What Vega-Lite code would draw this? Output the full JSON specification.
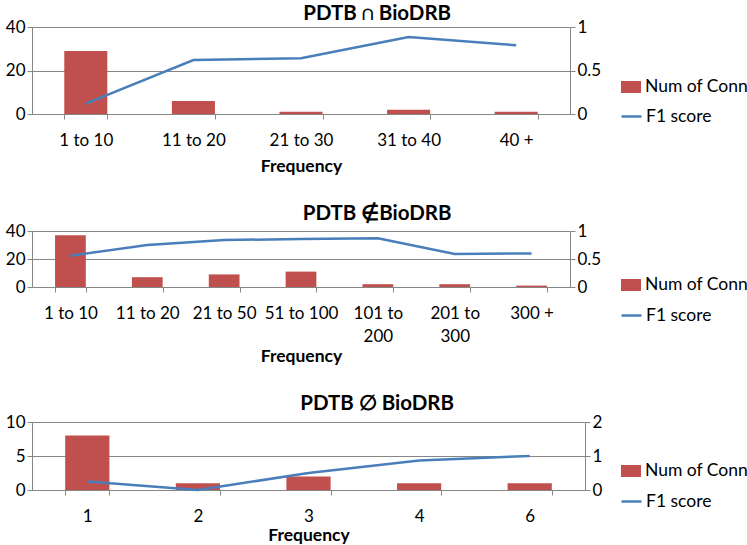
{
  "$schema": "https://vega.github.io/schema/vega-lite/v6.json",
  "padding": {"left": 5, "top": 3, "right": 0, "bottom": 0},
  "background": "white",
  "config": {
    "font": "Lato",
    "view": {"stroke": null},
    "axis": {"labelFont": "Lato", "labelFontSize": 17, "labelColor": "#000000", "domainColor": "#868686", "tickColor": "#868686", "gridColor": "#868686", "titleFont": "Lato", "titleFontSize": 17.5, "titleFontWeight": "bold", "titleColor": "#000000", "tickSize": 5},
    "title": {"font": "Lato", "fontSize": 20.5, "fontWeight": "bold", "color": "#000000", "anchor": "middle", "frame": "bounds"},
    "legend": {"labelFont": "Lato", "labelFontSize": 17.5, "labelColor": "#000000", "orient": "none", "labelOffset": 3},
    "concat": {"spacing": 28}
  },
  "resolve": {"scale": {"fill": "independent", "stroke": "independent"}},
  "vconcat": [
    {
      "title": {"text": "PDTB ∩ BioDRB", "offset": -6},
      "width": 538,
      "height": 87,
      "data": {"values": [
        {"freq": "1 to 10", "conn": 29, "f1": 0.12},
        {"freq": "11 to 20", "conn": 6, "f1": 0.62},
        {"freq": "21 to 30", "conn": 1, "f1": 0.64},
        {"freq": "31 to 40", "conn": 2, "f1": 0.885},
        {"freq": "40 +", "conn": 1, "f1": 0.79}
      ]},
      "encoding": {
        "x": {"field": "freq", "type": "nominal", "sort": null, "scale": {"paddingInner": 0.6, "paddingOuter": 0.3},
          "axis": {"title": "Frequency", "labelAngle": 0, "tickBand": "extent", "grid": false, "labelPadding": 13, "titlePadding": 9}}
      },
      "layer": [
        {"mark": {"type": "bar"},
          "encoding": {
            "y": {"field": "conn", "type": "quantitative", "scale": {"domain": [0, 40]}, "axis": {"orient": "left", "values": [0, 20, 40], "title": null, "grid": true}},
            "fill": {"datum": "Num of Conn", "type": "nominal", "scale": {"range": ["#C0504D"]}, "legend": {"title": null, "symbolType": "M-1,-0.6H1V0.6H-1Z", "symbolSize": 400, "orient": "none", "legendX": 588, "legendY": 49}}
          }},
        {"mark": {"type": "line", "strokeWidth": 2.5},
          "encoding": {
            "y": {"field": "f1", "type": "quantitative", "scale": {"domain": [0, 1]}, "axis": {"orient": "right", "values": [0, 0.5, 1], "format": "~g", "title": null, "grid": false}},
            "stroke": {"datum": "F1 score", "type": "nominal", "scale": {"range": ["#4A7EBB"]}, "legend": {"title": null, "symbolType": "stroke", "symbolStrokeWidth": 2.5, "symbolSize": 400, "orient": "none", "legendX": 588, "legendY": 78}}
          }}
      ],
      "resolve": {"scale": {"y": "independent"}}
    },
    {
      "title": {"text": "PDTB ∉BioDRB", "offset": -2},
      "width": 538,
      "height": 56,
      "data": {"values": [
        {"freq": "1 to 10", "conn": 37, "f1": 0.56},
        {"freq": "11 to 20", "conn": 7, "f1": 0.75},
        {"freq": "21 to 50", "conn": 9, "f1": 0.84},
        {"freq": "51 to 100", "conn": 11, "f1": 0.855},
        {"freq": "101 to 200", "conn": 2, "f1": 0.87},
        {"freq": "201 to 300", "conn": 2, "f1": 0.59},
        {"freq": "300 +", "conn": 1, "f1": 0.6}
      ]},
      "encoding": {
        "x": {"field": "freq", "type": "nominal", "sort": null, "scale": {"paddingInner": 0.6, "paddingOuter": 0.3},
          "axis": {"title": "Frequency", "labelAngle": 0, "tickBand": "extent", "grid": false, "labelPadding": 13, "titlePadding": 3, "labelLineHeight": 23,
            "labelExpr": "datum.label == '101 to 200' ? ['101 to', '200'] : datum.label == '201 to 300' ? ['201 to', '300'] : datum.label"}}
      },
      "layer": [
        {"mark": {"type": "bar"},
          "encoding": {
            "y": {"field": "conn", "type": "quantitative", "scale": {"domain": [0, 40]}, "axis": {"orient": "left", "values": [0, 20, 40], "title": null, "grid": true}},
            "fill": {"datum": "Num of Conn", "type": "nominal", "scale": {"range": ["#C0504D"]}, "legend": {"title": null, "symbolType": "M-1,-0.6H1V0.6H-1Z", "symbolSize": 400, "orient": "none", "legendX": 588, "legendY": 43}}
          }},
        {"mark": {"type": "line", "strokeWidth": 2.5},
          "encoding": {
            "y": {"field": "f1", "type": "quantitative", "scale": {"domain": [0, 1]}, "axis": {"orient": "right", "values": [0, 0.5, 1], "format": "~g", "title": null, "grid": false}},
            "stroke": {"datum": "F1 score", "type": "nominal", "scale": {"range": ["#4A7EBB"]}, "legend": {"title": null, "symbolType": "stroke", "symbolStrokeWidth": 2.5, "symbolSize": 400, "orient": "none", "legendX": 588, "legendY": 73}}
          }}
      ],
      "resolve": {"scale": {"y": "independent"}}
    },
    {
      "title": {"text": "PDTB ∅ BioDRB", "offset": -1},
      "width": 553,
      "height": 68,
      "data": {"values": [
        {"freq": "1", "conn": 8, "f1": 0.25},
        {"freq": "2", "conn": 1, "f1": 0},
        {"freq": "3", "conn": 2, "f1": 0.5},
        {"freq": "4", "conn": 1, "f1": 0.87},
        {"freq": "6", "conn": 1, "f1": 1.0}
      ]},
      "encoding": {
        "x": {"field": "freq", "type": "nominal", "sort": null, "scale": {"paddingInner": 0.6, "paddingOuter": 0.3},
          "axis": {"title": "Frequency", "labelAngle": 0, "tickBand": "extent", "grid": false, "labelPadding": 13, "titlePadding": 2}}
      },
      "layer": [
        {"mark": {"type": "bar"},
          "encoding": {
            "y": {"field": "conn", "type": "quantitative", "scale": {"domain": [0, 10]}, "axis": {"orient": "left", "values": [0, 5, 10], "title": null, "grid": true}},
            "fill": {"datum": "Num of Conn", "type": "nominal", "scale": {"range": ["#C0504D"]}, "legend": {"title": null, "symbolType": "M-1,-0.6H1V0.6H-1Z", "symbolSize": 400, "orient": "none", "legendX": 588, "legendY": 38}}
          }},
        {"mark": {"type": "line", "strokeWidth": 2.5},
          "encoding": {
            "y": {"field": "f1", "type": "quantitative", "scale": {"domain": [0, 2]}, "axis": {"orient": "right", "values": [0, 1, 2], "format": "~g", "title": null, "grid": false}},
            "stroke": {"datum": "F1 score", "type": "nominal", "scale": {"range": ["#4A7EBB"]}, "legend": {"title": null, "symbolType": "stroke", "symbolStrokeWidth": 2.5, "symbolSize": 400, "orient": "none", "legendX": 588, "legendY": 68}}
          }}
      ],
      "resolve": {"scale": {"y": "independent"}}
    }
  ]
}
